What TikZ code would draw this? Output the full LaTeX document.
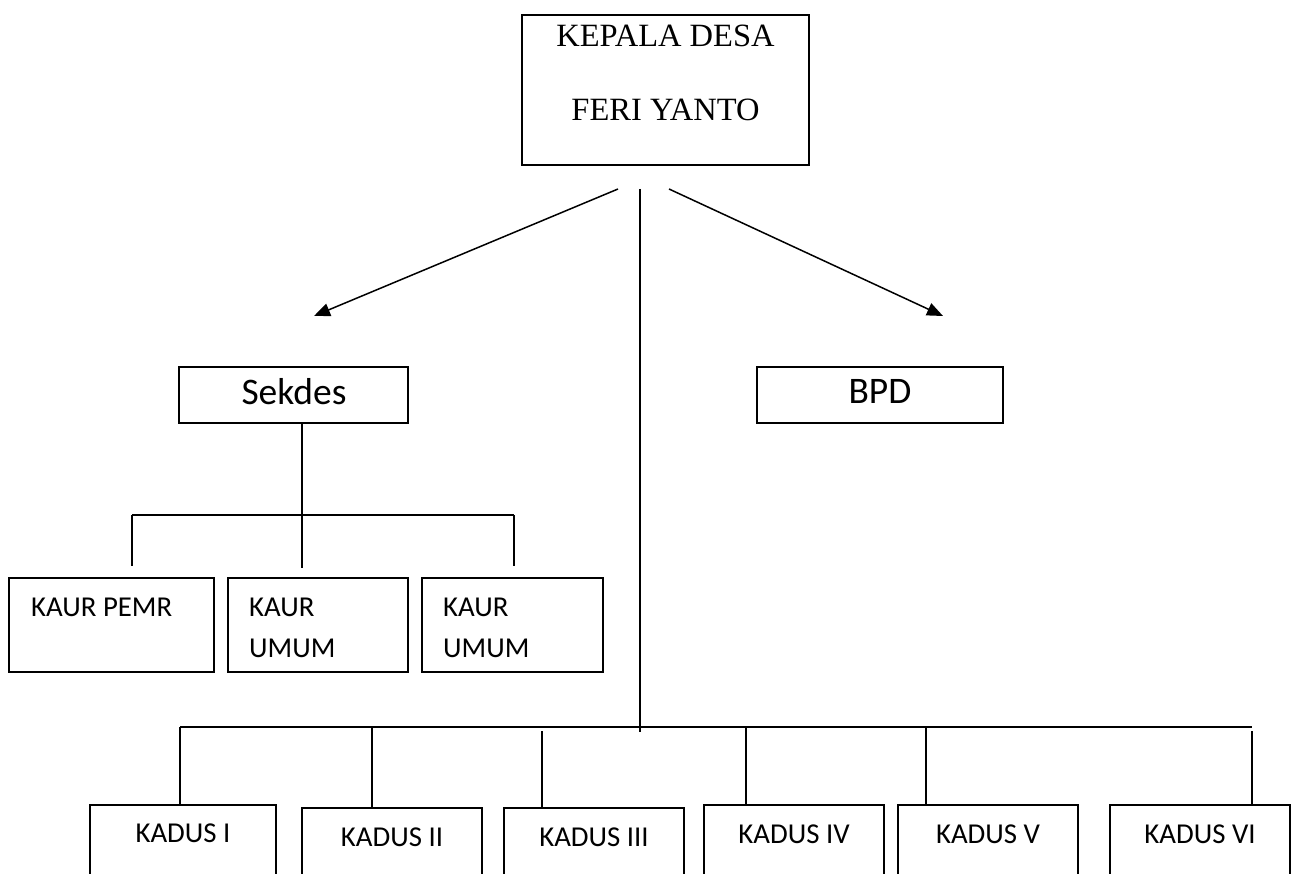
\documentclass[tikz,border=0pt]{standalone}
\usepackage{fontspec}
\setmainfont{Liberation Serif}
\setsansfont{Carlito}
\usetikzlibrary{arrows.meta}
\tikzset{
  box/.style={draw, line width=1.6pt, inner sep=0pt, fill=none},
  conn/.style={line width=1.5pt},
  arr/.style={line width=1.5pt, -{Triangle[length=16pt,width=13pt]}},
  serif/.style={font=\fontsize{32.5}{38}\selectfont\rmfamily, inner sep=0pt, anchor=base},
  big/.style={font=\fontsize{37.5}{44}\selectfont\sffamily, inner sep=0pt, anchor=base},
  small/.style={font=\fontsize{28.8}{34}\selectfont\sffamily, inner sep=0pt},
}
\begin{document}
\begin{tikzpicture}[x=1pt,y=-1pt]
\useasboundingbox (0,0) rectangle (1292,874);
\clip (0,0) rectangle (1292,874);
\fill[white] (0,0) rectangle (1292,874);

% top box
\node[box, minimum width=287pt, minimum height=150pt] (kd) at (665.5,90) {};
\node[serif] (kdt1) at (665.5,47) {KEPALA DESA};
\node[serif] (kdt2) at (665.5,121) {FERI YANTO};

% arrows and main line
\coordinate (aL1) at (618,189);
\coordinate (aL2) at (314,316);
\coordinate (aR1) at (669,189);
\coordinate (aR2) at (943,316);
\coordinate (v1) at (640,189);
\coordinate (v2) at (640,732);
\draw[arr] (aL1) -- (aL2);
\draw[arr] (aR1) -- (aR2);
\draw[conn] (v1) -- (v2);

% Sekdes and BPD
\node[box, minimum width=229pt, minimum height=56pt] (sek) at (293.5,395) {};
\node[big] (sekt) at (294,404) {Sekdes};
\node[box, minimum width=246pt, minimum height=56pt] (bpd) at (880,395) {};
\node[big] (bpdt) at (880,403) {BPD};

% Sekdes branch
\coordinate (sj) at (302,515);
\coordinate (hl) at (132,515);
\coordinate (hr) at (514,515);
\coordinate (d1) at (132,566);
\coordinate (d2) at (302,568);
\coordinate (d3) at (514,566);
\draw[conn] (sek.south -| sj) -- (sj);
\draw[conn] (hl) -- (hr);
\draw[conn] (hl) -- (d1);
\draw[conn] (sj) -- (d2);
\draw[conn] (hr) -- (d3);

% KAUR boxes
\node[box, minimum width=205pt, minimum height=94pt] (k1) at (111.5,625) {};
\node[box, minimum width=180pt, minimum height=94pt] (k2) at (318,625) {};
\node[box, minimum width=181pt, minimum height=94pt] (k3) at (512.5,625) {};
\node[small, anchor=base west] (k1t) at (31,616) {KAUR PEMR};
\node[small, anchor=base west] (k2t1) at (249,616) {KAUR};
\node[small, anchor=base west] (k2t2) at (249,657) {UMUM};
\node[small, anchor=base west] (k3t1) at (443,616) {KAUR};
\node[small, anchor=base west] (k3t2) at (443,657) {UMUM};

% bottom branch
\coordinate (bl) at (180,727);
\coordinate (br) at (1252,727);
\draw[conn] (bl) -- (br);
\node[box, minimum width=186pt, minimum height=110pt] (kd1) at (183,860) {};
\node[box, minimum width=180pt, minimum height=110pt] (kd2) at (392,863) {};
\node[box, minimum width=180pt, minimum height=110pt] (kd3) at (594,863) {};
\node[box, minimum width=180pt, minimum height=110pt] (kd4) at (794,860) {};
\node[box, minimum width=180pt, minimum height=110pt] (kd5) at (988,860) {};
\node[box, minimum width=180pt, minimum height=110pt] (kd6) at (1200,860) {};
\coordinate (b1) at (180,727);
\coordinate (b2) at (372,727);
\coordinate (b3) at (542,731);
\coordinate (b4) at (746,727);
\coordinate (b5) at (926,727);
\coordinate (b6) at (1252,731);
\draw[conn] (b1) -- (b1 |- kd1.north);
\draw[conn] (b2) -- (b2 |- kd2.north);
\draw[conn] (b3) -- (b3 |- kd3.north);
\draw[conn] (b4) -- (b4 |- kd4.north);
\draw[conn] (b5) -- (b5 |- kd5.north);
\draw[conn] (b6) -- (b6 |- kd6.north);
\node[small, anchor=base] (kd1t) at (183,842) {KADUS I};
\node[small, anchor=base] (kd2t) at (392,846) {KADUS II};
\node[small, anchor=base] (kd3t) at (594,846) {KADUS III};
\node[small, anchor=base] (kd4t) at (794,843) {KADUS IV};
\node[small, anchor=base] (kd5t) at (988,843) {KADUS V};
\node[small, anchor=base] (kd6t) at (1200,843) {KADUS VI};
\end{tikzpicture}
\end{document}
